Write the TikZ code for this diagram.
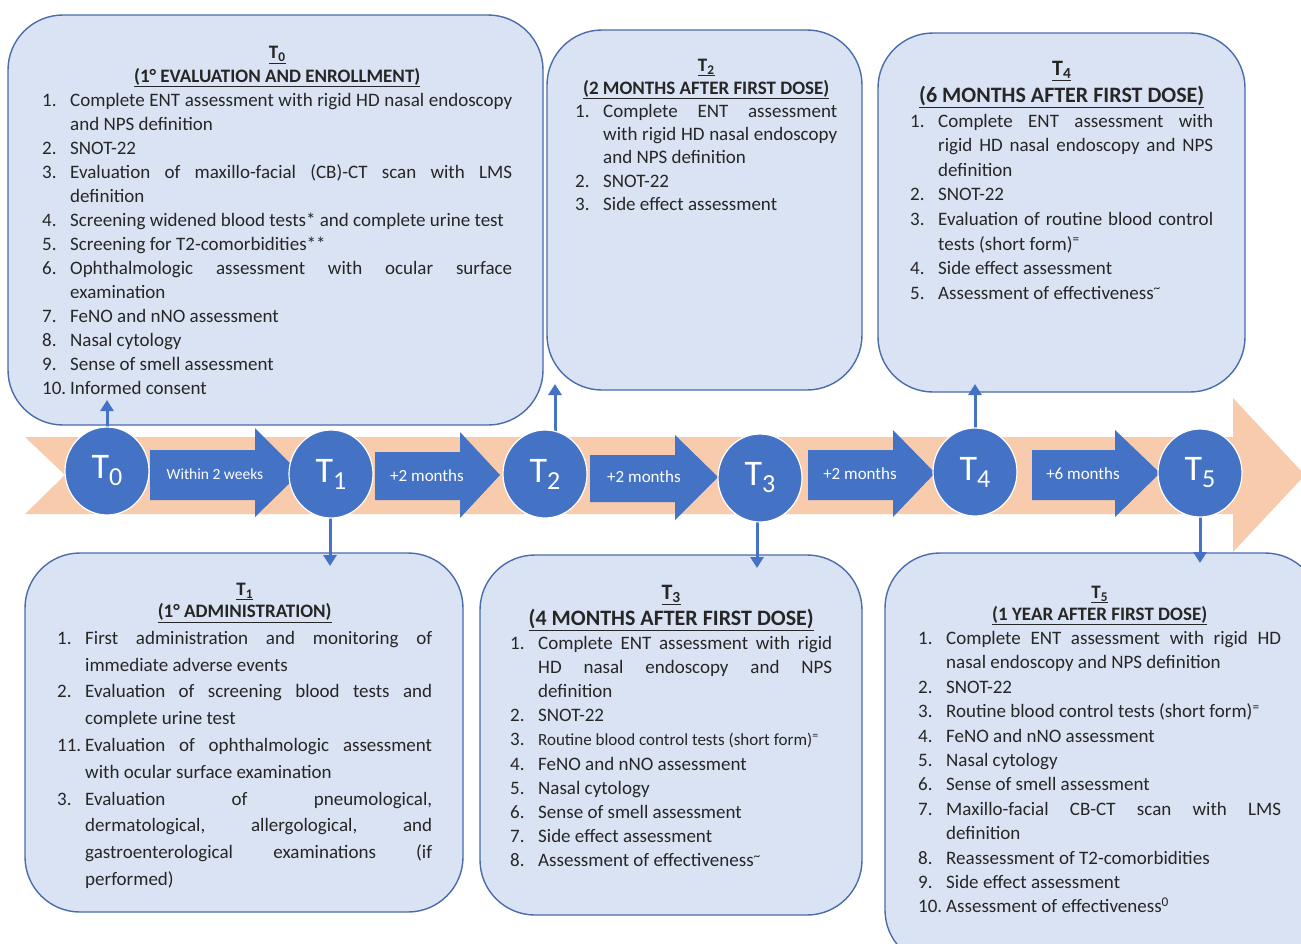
\documentclass[tikz,border=0pt]{standalone}
\usepackage{fontspec}
\setmainfont{Carlito}
\usetikzlibrary{arrows.meta,shapes.geometric}
\definecolor{bandc}{HTML}{F8CBAD}
\definecolor{tblue}{HTML}{4472C4}
\definecolor{boxfill}{HTML}{DAE3F3}
\definecolor{boxline}{HTML}{4A6CAA}
\definecolor{txt}{HTML}{262626}
\newlength\itmind \setlength\itmind{28pt}
\newcommand\itm[2]{\par\noindent\hangindent=\itmind\hangafter=1\makebox[\itmind][l]{#1}#2}
\newcommand\hd[3]{{\centering\fontsize{#1}{#2}\selectfont\bfseries\underline{#3}\par}}
\newcommand\eqsup{\textsuperscript{=}}
\newcommand\tlsup{\textsuperscript{\char"007E}}
\newcommand\clab[1]{{\fontsize{36}{36}\selectfont T\raisebox{-7pt}{\fontsize{26}{26}\selectfont #1}}}
\begin{document}
\begin{tikzpicture}[x=1pt,y=-1pt,
  tbox/.style={draw=boxline, line width=1.4pt, fill=boxfill, rounded corners=55pt, inner sep=0pt},
  ttext/.style={anchor=north west, inner sep=0pt, text=txt, align=justify},
  tcirc/.style={ellipse, fill=tblue, draw=white, line width=1.2pt, text=white, minimum width=84pt, minimum height=88pt, inner sep=0pt},
  blk/.style={fill=tblue},
  blab/.style={text=white, inner sep=0pt},
  conn/.style={draw=tblue, line width=3pt, -{Triangle[length=11pt,width=13pt]}}]
\useasboundingbox (0,0) rectangle (1301,943);
\clip (0,0) rectangle (1301,943);
\fill[white] (0,0) rectangle (1301,943);
% band
\fill[bandc] (25,437) -- (1233,437) -- (1233,398) -- (1305,475) -- (1233,552) -- (1233,514) -- (25,514) -- (65,475) -- cycle;
% boxes
\node[tbox, minimum width=535pt, minimum height=410pt] (b0) at (275.5,220) {};
\node[tbox, minimum width=315pt, minimum height=360pt] (b2) at (704.5,210) {};
\node[tbox, minimum width=367pt, minimum height=359pt] (b4) at (1061.5,212.5) {};
\node[tbox, minimum width=438pt, minimum height=359pt] (b1) at (244,732.5) {};
\node[tbox, minimum width=382pt, minimum height=360pt] (b3) at (671,735) {};
\node[tbox, minimum width=435pt, minimum height=412pt] (b5) at (1102.5,759) {};
% texts
\node[ttext, text width=470pt, font=\fontsize{19}{24}\selectfont] (t0) at (42,46) {%
\hd{19}{23.5}{T\textsubscript{0}}\hd{19}{23.5}{(1° EVALUATION AND ENROLLMENT)}%
\itm{1.}{Complete ENT assessment with rigid HD nasal endoscopy \linebreak and NPS definition}%
\itm{2.}{SNOT-22}%
\itm{3.}{Evaluation of maxillo-facial (CB)-CT scan with LMS \linebreak definition}%
\itm{4.}{Screening widened blood tests* and complete urine test}%
\itm{5.}{Screening for T2-comorbidities**}%
\itm{6.}{Ophthalmologic assessment with ocular surface \linebreak examination}%
\itm{7.}{FeNO and nNO assessment}%
\itm{8.}{Nasal cytology}%
\itm{9.}{Sense of smell assessment}%
\itm{10.}{Informed consent}\par};
\node[ttext, text width=262pt, font=\fontsize{19}{23.3}\selectfont] (t2) at (575,59) {%
\hd{19}{22.5}{T\textsubscript{2}}\hd{19}{22.5}{(2 MONTHS AFTER FIRST DOSE)}%
\itm{1.}{Complete ENT assessment \linebreak with rigid HD nasal endoscopy \linebreak and NPS definition}%
\itm{2.}{SNOT-22}%
\itm{3.}{Side effect assessment}\par};
\node[ttext, text width=303pt, font=\fontsize{19}{24.6}\selectfont] (t4) at (910,61) {%
\hd{22}{27}{T\textsubscript{4}}\hd{22}{27}{(6 MONTHS AFTER FIRST DOSE)}%
\itm{1.}{Complete ENT assessment with \linebreak rigid HD nasal endoscopy and NPS \linebreak definition}%
\itm{2.}{SNOT-22}%
\itm{3.}{Evaluation of routine blood control \linebreak tests (short form)\eqsup}%
\itm{4.}{Side effect assessment}%
\itm{5.}{Assessment of effectiveness\tlsup}\par};
\node[ttext, text width=375pt, font=\fontsize{19}{26.8}\selectfont] (t1) at (57,583) {%
\hd{19}{22}{T\textsubscript{1}}\hd{19}{22}{(1° ADMINISTRATION)}%
\itm{1.}{First administration and monitoring of \linebreak immediate adverse events}%
\itm{2.}{Evaluation of screening blood tests and \linebreak complete urine test}%
\itm{11.}{Evaluation of ophthalmologic assessment \linebreak with ocular surface examination}%
\itm{3.}{Evaluation of pneumological, \linebreak dermatological, allergological, and \linebreak gastroenterological examinations (if \linebreak performed)}\par};
\node[ttext, text width=322pt, font=\fontsize{19}{24.1}\selectfont] (t3) at (510,585) {%
\hd{22}{26}{T\textsubscript{3}}\hd{22}{26}{(4 MONTHS AFTER FIRST DOSE)}%
\itm{1.}{Complete ENT assessment with rigid \linebreak HD nasal endoscopy and NPS \linebreak definition}%
\itm{2.}{SNOT-22}%
\itm{3.}{{\fontsize{17}{24.1}\selectfont Routine blood control tests (short form)\eqsup}}%
\itm{4.}{FeNO and nNO assessment}%
\itm{5.}{Nasal cytology}%
\itm{6.}{Sense of smell assessment}%
\itm{7.}{Side effect assessment}%
\itm{8.}{Assessment of effectiveness\tlsup}\par};
\node[ttext, text width=363pt, font=\fontsize{19}{24.4}\selectfont] (t5) at (918,586) {%
\hd{19}{21.5}{T\textsubscript{5}}\hd{19}{21.5}{(1 YEAR AFTER FIRST DOSE)}%
\itm{1.}{Complete ENT assessment with rigid HD \linebreak nasal endoscopy and NPS definition}%
\itm{2.}{SNOT-22}%
\itm{3.}{Routine blood control tests (short form)\eqsup}%
\itm{4.}{FeNO and nNO assessment}%
\itm{5.}{Nasal cytology}%
\itm{6.}{Sense of smell assessment}%
\itm{7.}{Maxillo-facial CB-CT scan with LMS \linebreak definition}%
\itm{8.}{Reassessment of T2-comorbidities}%
\itm{9.}{Side effect assessment}%
\itm{10.}{Assessment of effectiveness\textsuperscript{0}}\par};
% circle positions (drawn later), connector ends
\coordinate (e0) at (107,400);
\coordinate (e1) at (330,566);
\coordinate (e2) at (555,384);
\coordinate (e3) at (757,568);
\coordinate (e4) at (975,384);
\coordinate (e5) at (1200,563);
\coordinate (p0) at (107,471);
\coordinate (p1) at (331,474);
\coordinate (p2) at (545,474);
\coordinate (p3) at (760,478);
\coordinate (p4) at (975,472);
\coordinate (p5) at (1200,473);
\draw[conn] (p0 -| e0) -- (e0);
\draw[conn] (p1 -| e1) -- (e1);
\draw[conn] (p2 -| e2) -- (e2);
\draw[conn] (p3 -| e3) -- (e3);
\draw[conn] (p4 -| e4) -- (e4);
\draw[conn] (p5 -| e5) -- (e5);
% block arrows
\fill[blk] (150,450) -- (255,450) -- (255,428) -- (300,473) -- (255,517) -- (255,500) -- (150,500) -- cycle;
\fill[blk] (375,452) -- (460,452) -- (460,432) -- (500,475) -- (460,518) -- (460,500) -- (375,500) -- cycle;
\fill[blk] (590,455) -- (675,455) -- (675,435) -- (718,477) -- (675,520) -- (675,502) -- (590,502) -- cycle;
\fill[blk] (808,450) -- (893,450) -- (893,430) -- (935,473) -- (893,517) -- (893,500) -- (808,500) -- cycle;
\fill[blk] (1032,450) -- (1115,450) -- (1115,430) -- (1160,473) -- (1115,517) -- (1115,500) -- (1032,500) -- cycle;
\node[blab, font=\fontsize{15.5}{16}\selectfont] (l1) at (215,474) {Within 2 weeks};
\node[blab, font=\fontsize{17}{18}\selectfont] (l2) at (427,476) {+2 months};
\node[blab, font=\fontsize{17}{18}\selectfont] (l3) at (644,477) {+2 months};
\node[blab, font=\fontsize{17}{18}\selectfont] (l4) at (860,474) {+2 months};
\node[blab, font=\fontsize{17}{18}\selectfont] (l5) at (1083,474) {+6 months};
% circles
\node[tcirc] (c0) at (p0) {\clab{0}};
\node[tcirc] (c1) at (p1) {\clab{1}};
\node[tcirc] (c2) at (p2) {\clab{2}};
\node[tcirc] (c3) at (p3) {\clab{3}};
\node[tcirc] (c4) at (p4) {\clab{4}};
\node[tcirc] (c5) at (p5) {\clab{5}};
\end{tikzpicture}
\end{document}
